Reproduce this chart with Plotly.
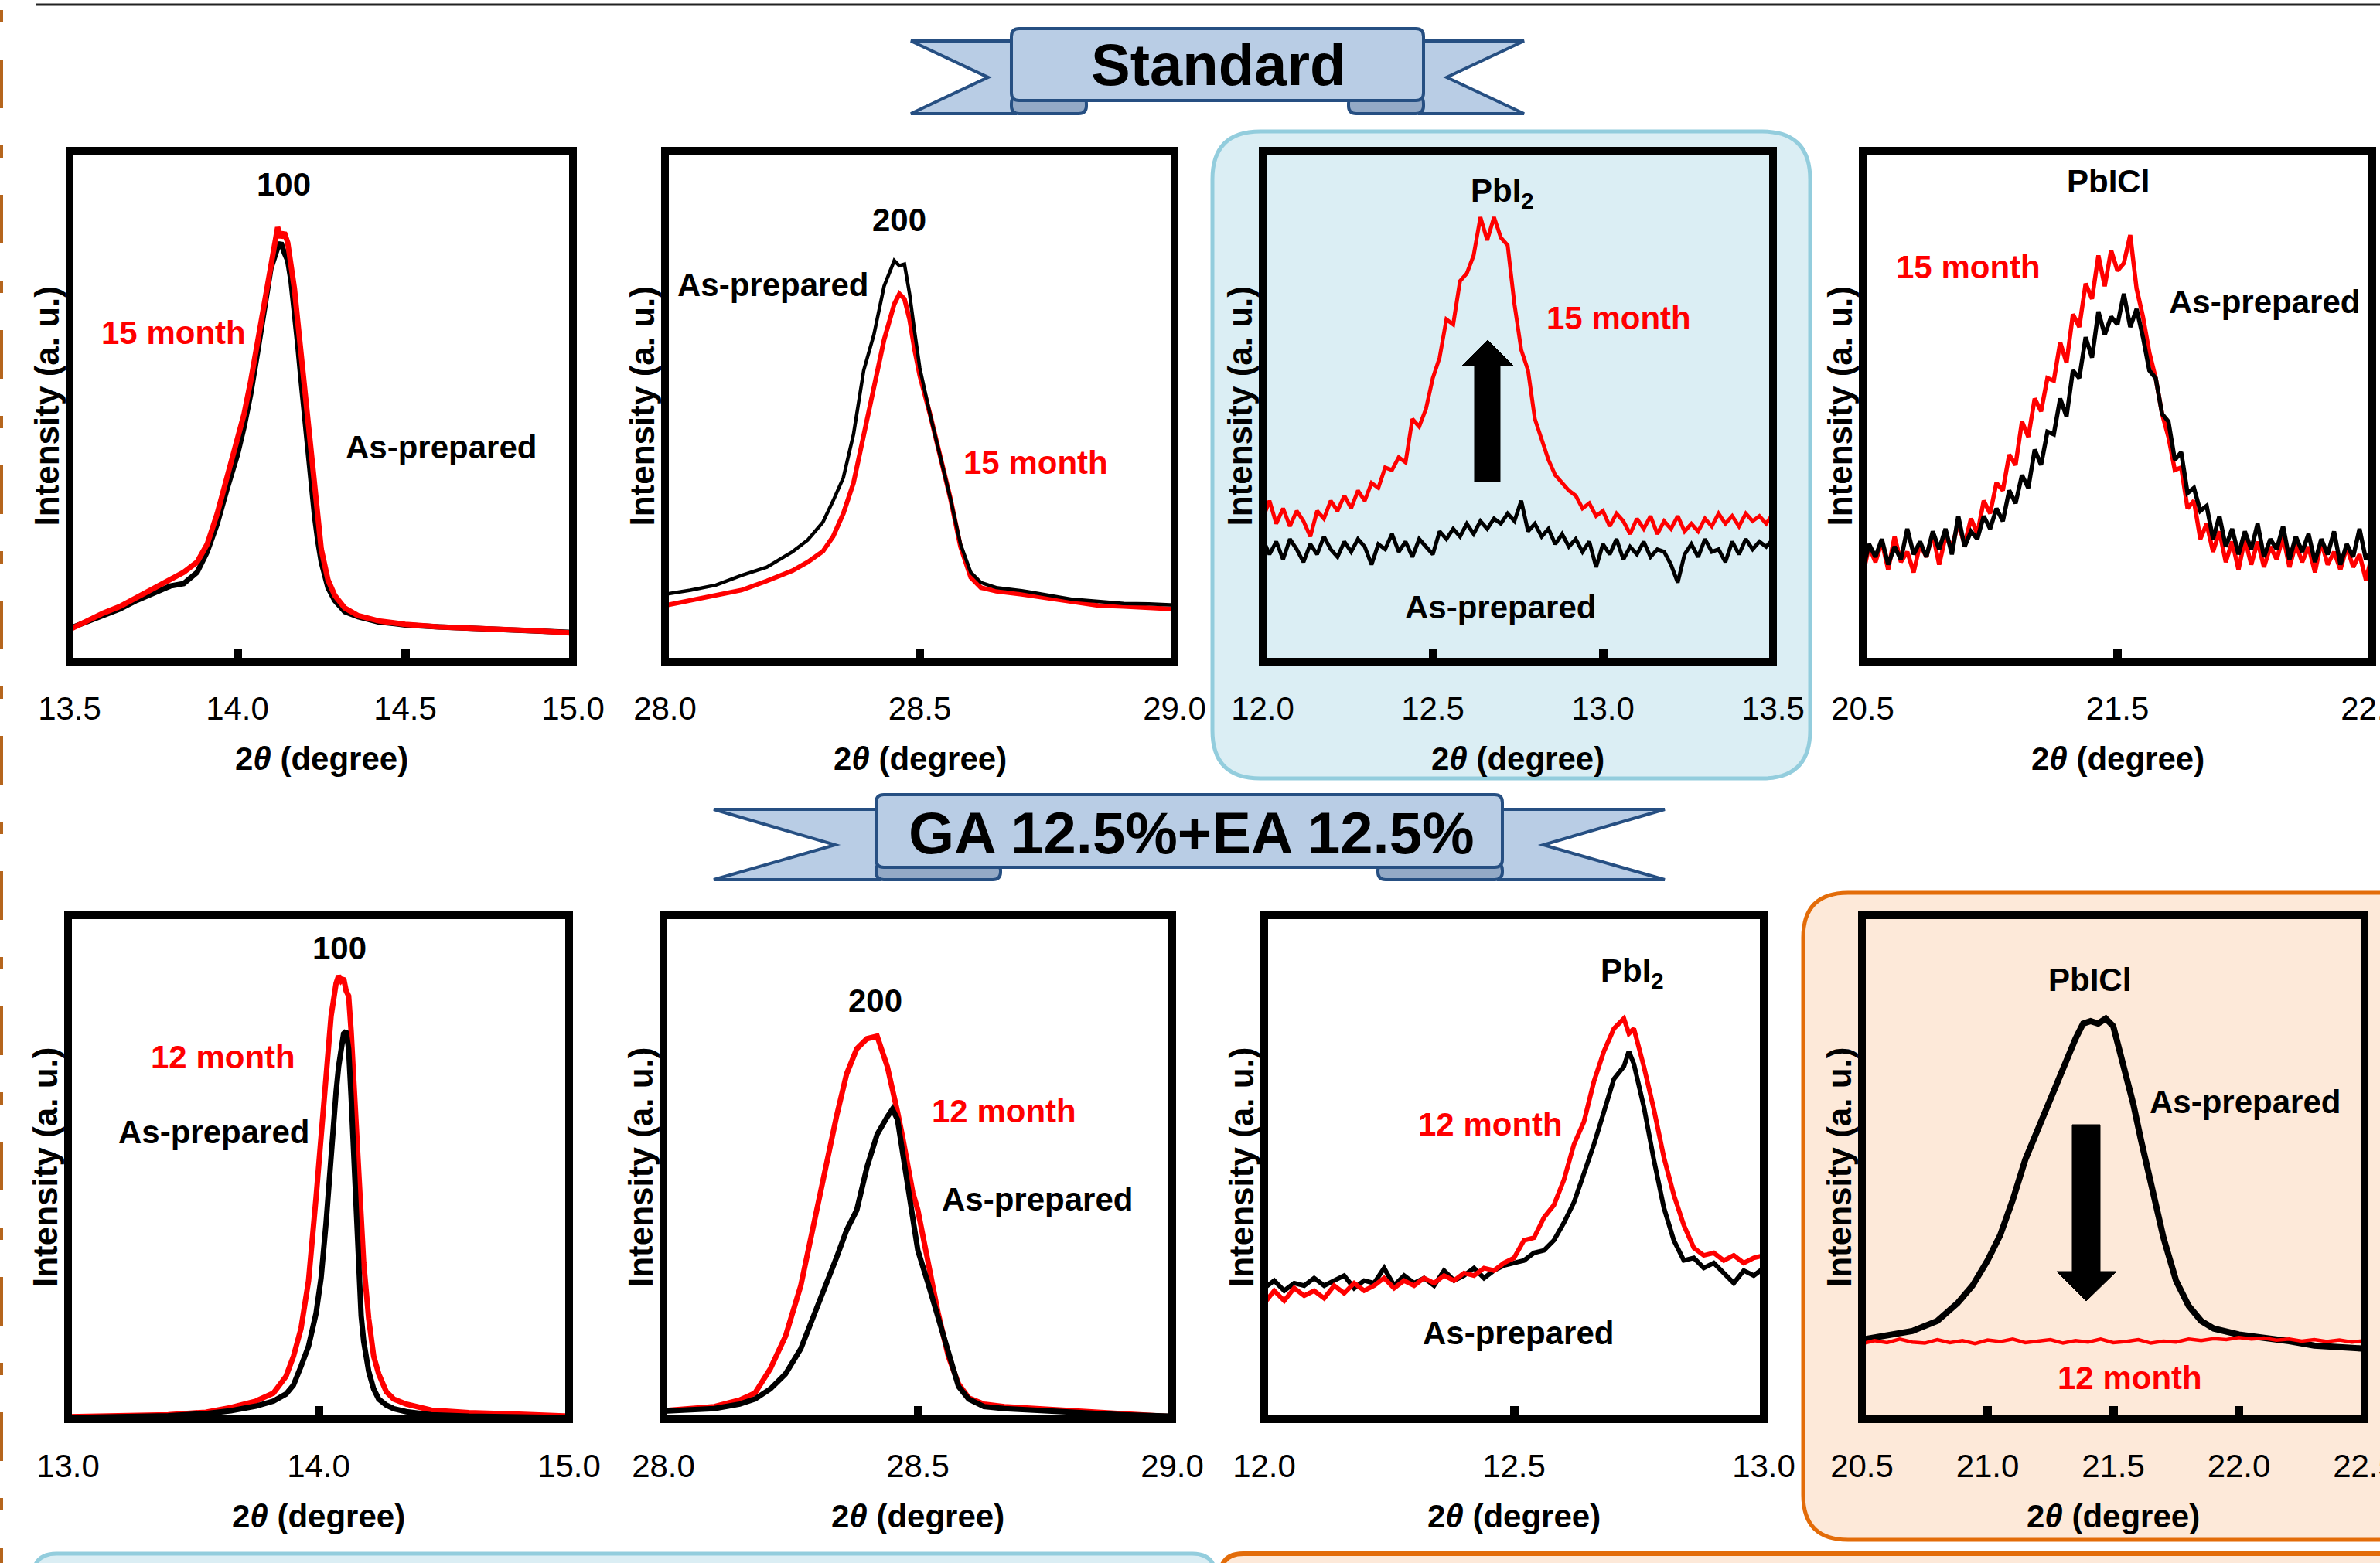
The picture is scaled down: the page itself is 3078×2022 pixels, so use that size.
import plotly.graph_objects as go

W, H = 3078, 2022
FONT = "Liberation Sans, Arial, Helvetica, sans-serif"


def PX(x):
    return x / W


def PY(y):
    return 1 - y / H


# ------------------------------------------------------------------ data
# Panel 1 : Standard, (100) peak
p1_x = [13.50, 13.55, 13.60, 13.65, 13.70, 13.75, 13.80, 13.84, 13.88, 13.91, 13.94, 13.97, 14.00,
        14.02, 14.04, 14.06, 14.08, 14.10, 14.12, 14.13, 14.14, 14.15, 14.16, 14.17, 14.18, 14.19,
        14.20, 14.21, 14.22, 14.23, 14.24, 14.25, 14.27, 14.29, 14.32, 14.36, 14.42, 14.50, 14.60,
        14.70, 14.80, 14.90, 15.00]
p1_asprep = [6.5, 7.8, 9.0, 10.3, 12.0, 13.3, 14.8, 15.3, 17.5, 21.5, 27.0, 34.0, 40.5,
             46.0, 52.5, 60.5, 69.5, 77.0, 81.0, 82.0, 80.0, 78.5, 74.5, 69.0, 62.0, 55.0,
             48.0, 41.0, 35.0, 28.5, 23.5, 19.5, 14.5, 12.0, 9.8, 8.8, 7.8, 7.2, 6.8,
             6.5, 6.2, 6.0, 5.7]
p1_aged = [6.3, 7.9, 9.5, 10.8, 12.5, 14.2, 16.0, 17.5, 19.5, 23.0, 29.0, 36.5, 43.0,
           48.5, 55.0, 62.5, 71.5, 79.0, 85.0, 83.0, 84.0, 82.0, 77.5, 73.0, 66.5, 60.0,
           53.0, 46.0, 40.0, 33.0, 27.5, 22.0, 16.0, 13.0, 10.5, 9.0, 8.0, 7.3, 6.8,
           6.6, 6.4, 6.0, 5.6]
p1_ticks = [13.5, 14.0, 14.5, 15.0]
p1_ticktext = ["13.5", "14.0", "14.5", "15.0"]

# Panel 2 : Standard, (200) peak
p2_x = [28.00, 28.05, 28.10, 28.15, 28.20, 28.25, 28.28, 28.31, 28.33, 28.35, 28.37, 28.39, 28.41,
        28.43, 28.45, 28.46, 28.47, 28.48, 28.49, 28.50, 28.52, 28.54, 28.56, 28.58, 28.60, 28.62,
        28.65, 28.70, 28.75, 28.80, 28.85, 28.90, 28.95, 29.00]
p2_asprep = [13.2, 14.0, 15.0, 16.9, 18.5, 21.5, 23.8, 27.3, 31.5, 36.0, 44.5, 57.0, 64.0,
             73.5, 78.5, 77.5, 77.8, 72.0, 64.5, 57.5, 48.5, 40.5, 32.0, 23.0, 17.5, 15.5,
             14.5, 13.9, 13.0, 12.2, 11.8, 11.4, 11.3, 11.1]
p2_aged = [11.0, 12.0, 12.8, 14.0, 15.8, 17.8, 19.5, 21.6, 24.5, 29.0, 35.0, 44.0, 53.0,
           63.0, 70.0, 72.0, 71.0, 67.0, 61.0, 56.0, 48.5, 40.5, 32.0, 22.5, 16.5, 14.5,
           13.8, 13.2, 12.4, 11.6, 11.0, 10.8, 10.5, 10.3]
p2_ticks = [28.0, 28.5, 29.0]
p2_ticktext = ["28.0", "28.5", "29.0"]

# Panel 3 : Standard, PbI2 peak
p3_x = [12.00, 12.02, 12.04, 12.06, 12.08, 12.10, 12.12, 12.14, 12.16, 12.18,
        12.20, 12.22, 12.24, 12.26, 12.28, 12.30, 12.32, 12.34, 12.36, 12.38,
        12.40, 12.42, 12.44, 12.46, 12.48, 12.50, 12.52, 12.54, 12.56, 12.58,
        12.60, 12.62, 12.64, 12.66, 12.68, 12.70, 12.72, 12.74, 12.76, 12.78,
        12.80, 12.82, 12.84, 12.86, 12.88, 12.90, 12.92, 12.94, 12.96, 12.98,
        13.00, 13.02, 13.04, 13.06, 13.08, 13.10, 13.12, 13.14, 13.16, 13.18,
        13.20, 13.22, 13.24, 13.26, 13.28, 13.30, 13.32, 13.34, 13.36, 13.38,
        13.40, 13.42, 13.44, 13.46, 13.48, 13.50]
p3_asprep = [24, 21, 23.5, 20, 24, 22, 19.5, 23, 21, 24.5,
             22, 20.5, 23.5, 21.5, 24, 22.5, 19, 23, 22, 25,
             21.5, 23.5, 20.5, 24, 22.5, 21, 25.5, 24, 26, 24.5,
             27, 25, 27.5, 26, 28, 27, 29, 27.5, 31.5, 25.5,
             27, 24.5, 26, 23, 25, 22.5, 24, 21.5, 23.5, 18.5,
             23, 21, 24, 20, 22.5, 21, 23.5, 20.5, 22, 21.5,
             19, 15.5, 21, 23, 20.5, 24, 21.5, 22, 19.5, 23.5,
             21, 24, 22, 23.5, 22.5, 24]
p3_aged = [28, 31.5, 27, 30, 26.5, 29.5, 27.5, 24.5, 29.5, 28,
           31.5, 29.5, 32.5, 30, 33.5, 31.5, 35, 34, 38, 37.5,
           40, 39, 47.5, 46, 49.5, 55.5, 59.5, 67, 66, 74.5,
           76, 79.5, 87, 82.5, 87, 83, 81.5, 70, 61, 57,
           47.5, 43.5, 39.5, 36.5, 35, 33.5, 32.5, 30, 31, 28.5,
           29.5, 26.5, 29, 27.5, 25, 28, 26, 28.5, 25, 27.5,
           26, 28.5, 25.5, 27, 25.5, 28, 26.5, 29, 27, 28.5,
           26.5, 29, 27.5, 28.5, 27, 29]
p3_ticks = [12.0, 12.5, 13.0, 13.5]
p3_ticktext = ["12.0", "12.5", "13.0", "13.5"]

# Panel 4 : Standard, PbICl peak
p4_x = [20.500, 20.525, 20.550, 20.575, 20.600, 20.625, 20.650, 20.675, 20.700, 20.725,
        20.750, 20.775, 20.800, 20.825, 20.850, 20.875, 20.900, 20.925, 20.950, 20.975,
        21.000, 21.025, 21.050, 21.075, 21.100, 21.125, 21.150, 21.175, 21.200, 21.225,
        21.250, 21.275, 21.300, 21.325, 21.350, 21.375, 21.400, 21.425, 21.450, 21.475,
        21.500, 21.525, 21.550, 21.575, 21.600, 21.625, 21.650, 21.675, 21.700, 21.725,
        21.750, 21.775, 21.800, 21.825, 21.850, 21.875, 21.900, 21.925, 21.950, 21.975,
        22.000, 22.025, 22.050, 22.075, 22.100, 22.125, 22.150, 22.175, 22.200, 22.225,
        22.250, 22.275, 22.300, 22.325, 22.350, 22.375, 22.400, 22.425, 22.450, 22.475,
        22.500]
p4_asprep = [18.0, 23.0, 20.5, 24.0, 19.0, 22.5, 20.0, 26.0, 21.0, 23.5,
             20.5, 25.5, 22.0, 26.0, 21.0, 28.5, 22.5, 25.5, 24.0, 28.5,
             26.0, 30.0, 27.5, 33.5, 31.0, 36.5, 34.0, 41.5, 38.5, 45.0,
             44.5, 51.5, 48.0, 57.0, 55.5, 63.5, 59.5, 68.5, 64.0, 67.5,
             66.0, 72.0, 65.5, 69.0, 63.5, 57.0, 55.5, 48.5, 47.0, 39.5,
             41.0, 33.0, 34.0, 29.5, 30.5, 24.0, 28.5, 22.5, 26.0, 21.0,
             25.5, 22.0, 27.0, 20.5, 24.0, 22.0, 26.5, 20.0, 24.5, 21.5,
             25.0, 19.5, 24.0, 21.0, 25.5, 19.0, 23.0, 20.5, 26.0, 20.0,
             22.0]
p4_aged = [17.0, 22.5, 19.5, 23.5, 18.0, 24.5, 19.5, 21.5, 17.5, 23.0,
           20.5, 25.0, 19.0, 24.5, 22.5, 27.0, 23.0, 28.0, 25.0, 31.5,
           29.0, 35.0, 33.5, 40.5, 38.5, 47.0, 44.0, 51.5, 49.0, 55.5,
           55.0, 62.5, 58.5, 68.0, 65.5, 74.0, 71.0, 79.5, 73.5, 80.5,
           76.5, 78.0, 83.5, 73.0, 67.5, 60.5, 55.5, 48.5, 44.0, 37.5,
           38.0, 30.0, 31.5, 24.0, 27.0, 21.5, 25.5, 19.5, 23.5, 18.0,
           24.0, 19.0, 23.5, 18.5, 22.5, 20.0, 24.5, 18.5, 23.0, 19.5,
           22.5, 17.5, 23.5, 19.0, 21.5, 18.0, 22.5, 18.5, 21.0, 16.0,
           21.0]
p4_ticks = [20.5, 21.5, 22.5]
p4_ticktext = ["20.5", "21.5", "22.5"]

# Panel 5 : GA+EA, (100) peak
p5_x = [13.00, 13.20, 13.40, 13.55, 13.65, 13.75, 13.82, 13.87, 13.90, 13.93, 13.96, 13.99, 14.01,
        14.03, 14.05, 14.07, 14.08, 14.09, 14.10, 14.11, 14.12, 14.13, 14.14, 14.15, 14.16, 14.17,
        14.18, 14.20, 14.22, 14.24, 14.27, 14.30, 14.35, 14.45, 14.60, 14.80, 15.00]
p5_asprep = [0.3, 0.4, 0.7, 1.1, 1.7, 2.6, 3.6, 5.0, 6.8, 10.5, 14.5, 21.0, 28.0,
             39.0, 53.0, 65.0, 70.0, 73.5, 76.5, 77.0, 73.5, 64.0, 53.0, 41.0, 28.0, 20.5,
             15.5, 9.5, 6.0, 4.0, 2.8, 2.1, 1.5, 0.9, 0.6, 0.4, 0.3]
p5_aged = [0.5, 0.6, 0.9, 1.4, 2.3, 3.6, 5.2, 8.5, 12.5, 18.0, 27.5, 44.0, 57.0,
           70.0, 80.0, 86.5, 88.0, 87.0, 87.5, 85.0, 84.0, 77.0, 68.0, 57.0, 47.5, 39.5,
           31.0, 20.0, 12.5, 9.0, 5.5, 4.0, 3.0, 1.8, 1.3, 1.0, 0.6]
p5_ticks = [13.0, 14.0, 15.0]
p5_ticktext = ["13.0", "14.0", "15.0"]

# Panel 6 : GA+EA, (200) peak
p6_x = [28.00, 28.05, 28.10, 28.15, 28.18, 28.21, 28.24, 28.27, 28.30, 28.32, 28.34, 28.36, 28.38,
        28.40, 28.42, 28.44, 28.45, 28.46, 28.47, 28.48, 28.49, 28.50, 28.52, 28.54, 28.56, 28.58,
        28.60, 28.63, 28.67, 28.72, 28.80, 28.90, 29.00]
p6_asprep = [1.6, 1.8, 2.1, 3.0, 4.0, 6.0, 9.0, 14.0, 21.5, 26.5, 32.0, 37.5, 41.5,
             50.0, 56.5, 60.0, 61.5, 59.5, 53.0, 45.0, 38.5, 33.5, 27.0, 20.0, 13.5, 6.5,
             4.0, 2.5, 2.1, 1.8, 1.3, 0.9, 0.6]
p6_aged = [1.7, 2.0, 2.5, 3.8, 5.2, 10.0, 16.5, 26.5, 41.0, 49.5, 60.0, 68.5, 73.5,
           75.5, 76.0, 70.0, 66.0, 61.0, 56.0, 50.0, 45.0, 41.5, 31.5, 21.0, 12.5, 7.0,
           4.2, 3.0, 2.5, 2.2, 1.5, 1.0, 0.5]
p6_ticks = [28.0, 28.5, 29.0]
p6_ticktext = ["28.0", "28.5", "29.0"]

# Panel 7 : GA+EA, PbI2 peak
p7_x = [12.00, 12.02, 12.04, 12.06, 12.08, 12.10, 12.12, 12.14, 12.16, 12.18,
        12.20, 12.22, 12.24, 12.26, 12.28, 12.30, 12.32, 12.34, 12.36, 12.38,
        12.40, 12.42, 12.44, 12.46, 12.48, 12.50, 12.52, 12.54, 12.56, 12.58,
        12.60, 12.62, 12.64, 12.66, 12.68, 12.70, 12.72, 12.73, 12.74, 12.76,
        12.78, 12.80, 12.82, 12.84, 12.86, 12.88, 12.90, 12.92, 12.94, 12.96,
        12.98, 13.00]
p7_asprep = [26.0, 27.5, 25.5, 27.0, 26.5, 28.0, 26.5, 27.5, 28.5, 26.0,
             27.5, 27.0, 30.0, 26.5, 28.5, 27.0, 28.0, 26.5, 29.5, 27.5,
             28.5, 30.0, 28.0, 29.5, 30.5, 31.0, 31.5, 33.0, 33.5, 35.5,
             39.0, 43.0, 48.5, 54.5, 61.0, 67.5, 70.0, 73.0, 70.5, 62.0,
             51.5, 42.0, 35.5, 31.5, 32.0, 30.0, 31.0, 29.0, 27.0, 29.5,
             28.5, 30.0]
p7_aged = [23.0, 25.5, 23.5, 26.0, 24.5, 25.5, 24.0, 26.5, 25.0, 27.0,
           25.5, 26.5, 28.0, 26.0, 27.5, 26.5, 28.0, 27.0, 28.5, 27.5,
           29.0, 28.5, 30.0, 29.5, 31.0, 32.0, 35.5, 36.0, 40.0, 42.5,
           47.5, 54.5, 59.0, 67.0, 73.0, 77.5, 79.5, 76.5, 77.5, 70.0,
           61.5, 52.0, 44.5, 38.5, 34.0, 32.5, 33.0, 31.5, 32.5, 31.0,
           32.0, 32.5]
p7_ticks = [12.0, 12.5, 13.0]
p7_ticktext = ["12.0", "12.5", "13.0"]

# Panel 8 : GA+EA, PbICl peak
p8_x = [20.50, 20.60, 20.70, 20.80, 20.88, 20.94, 21.00, 21.05, 21.10, 21.15, 21.20, 21.25,
        21.30, 21.35, 21.38, 21.41, 21.44, 21.47, 21.50, 21.52, 21.55, 21.58, 21.61, 21.65,
        21.70, 21.75, 21.80, 21.85, 21.90, 22.00, 22.10, 22.20, 22.30, 22.40, 22.50]
p8_asprep = [15.8, 16.5, 17.5, 19.5, 23.0, 26.5, 31.5, 36.5, 43.5, 51.5, 57.5, 64.0,
             70.0, 75.5, 78.5, 79.0, 78.5, 79.5, 78.0, 74.0, 69.0, 62.5, 55.5, 47.0,
             36.0, 27.5, 22.5, 19.5, 18.0, 16.8, 16.2, 15.5, 14.6, 14.3, 14.0]
p8_aged_x = [20.50, 20.55, 20.60, 20.65, 20.70, 20.75, 20.80, 20.85, 20.90, 20.95,
             21.00, 21.05, 21.10, 21.15, 21.20, 21.25, 21.30, 21.35, 21.40, 21.45,
             21.50, 21.55, 21.60, 21.65, 21.70, 21.75, 21.80, 21.85, 21.90, 21.95,
             22.00, 22.05, 22.10, 22.15, 22.20, 22.25, 22.30, 22.35, 22.40, 22.45,
             22.50]
p8_aged = [15.0, 15.6, 15.2, 15.9, 15.3, 15.1, 15.8, 15.2, 15.6, 15.0,
           15.7, 15.4, 15.9, 15.2, 15.5, 15.8, 15.1, 15.6, 15.3, 15.9,
           15.2, 15.4, 15.8, 15.1, 15.5, 15.3, 15.9, 15.6, 16.0, 15.8,
           16.2, 15.9, 16.1, 15.7, 15.9, 15.5, 15.8, 15.4, 15.7, 15.3,
           15.6]
p8_ticks = [20.5, 21.0, 21.5, 22.0, 22.5]
p8_ticktext = ["20.5", "21.0", "21.5", "22.0", "22.5"]

# ------------------------------------------------------------------ layout config
panels = [
    dict(x=p1_x, a=p1_asprep, xr=p1_x, r=p1_aged, box=(90, 195, 741, 856), rng=[13.5, 15.0],
         tv=p1_ticks, tt=p1_ticktext, wa=7, wr=7, red_top=True),
    dict(x=p2_x, a=p2_asprep, xr=p2_x, r=p2_aged, box=(860, 195, 1519, 856), rng=[28.0, 29.0],
         tv=p2_ticks, tt=p2_ticktext, wa=4.5, wr=6, red_top=False),
    dict(x=p3_x, a=p3_asprep, xr=p3_x, r=p3_aged, box=(1633, 195, 2293, 856), rng=[12.0, 13.5],
         tv=p3_ticks, tt=p3_ticktext, wa=5, wr=5, red_top=False),
    dict(x=p4_x, a=p4_asprep, xr=p4_x, r=p4_aged, box=(2409, 195, 3068, 856), rng=[20.5, 22.5],
         tv=p4_ticks, tt=p4_ticktext, wa=5.5, wr=5.5, red_top=False),
    dict(x=p5_x, a=p5_asprep, xr=p5_x, r=p5_aged, box=(88, 1184, 736, 1836), rng=[13.0, 15.0],
         tv=p5_ticks, tt=p5_ticktext, wa=7, wr=7, red_top=False),
    dict(x=p6_x, a=p6_asprep, xr=p6_x, r=p6_aged, box=(858, 1184, 1516, 1836), rng=[28.0, 29.0],
         tv=p6_ticks, tt=p6_ticktext, wa=7, wr=7, red_top=False),
    dict(x=p7_x, a=p7_asprep, xr=p7_x, r=p7_aged, box=(1635, 1184, 2281, 1836), rng=[12.0, 13.0],
         tv=p7_ticks, tt=p7_ticktext, wa=6, wr=6, red_top=True),
    dict(x=p8_x, a=p8_asprep, xr=p8_aged_x, r=p8_aged, box=(2408, 1184, 3058, 1836), rng=[20.5, 22.5],
         tv=p8_ticks, tt=p8_ticktext, wa=8, wr=4.5, red_top=True),
]

BLACK = "#000000"
RED = "#FF0000"

labels = [
    ("<b>100</b>", 367, 238, BLACK), ("<b>15 month</b>", 224, 430, RED), ("<b>As-prepared</b>", 570, 579, BLACK),
    ("<b>200</b>", 1163, 284, BLACK), ("<b>As-prepared</b>", 999, 368, BLACK), ("<b>15 month</b>", 1339, 598, RED),
    ("<b>PbI<sub>2</sub></b>", 1943, 250, BLACK), ("<b>15 month</b>", 2093, 412, RED), ("<b>As-prepared</b>", 1940, 785, BLACK),
    ("<b>PbICl</b>", 2726, 234, BLACK), ("<b>15 month</b>", 2545, 346, RED), ("<b>As-prepared</b>", 2928, 390, BLACK),
    ("<b>100</b>", 439, 1226, BLACK), ("<b>12 month</b>", 288, 1367, RED), ("<b>As-prepared</b>", 276, 1464, BLACK),
    ("<b>200</b>", 1132, 1294, BLACK), ("<b>12 month</b>", 1298, 1437, RED), ("<b>As-prepared</b>", 1341, 1551, BLACK),
    ("<b>PbI<sub>2</sub></b>", 2111, 1258, BLACK), ("<b>12 month</b>", 1927, 1454, RED), ("<b>As-prepared</b>", 1963, 1724, BLACK),
    ("<b>PbICl</b>", 2702, 1267, BLACK), ("<b>As-prepared</b>", 2903, 1425, BLACK), ("<b>12 month</b>", 2754, 1782, RED),
]

fig = go.Figure()
layout = dict(
    template="none",
    width=W, height=H, autosize=False, margin=dict(l=0, r=0, t=0, b=0, pad=0, autoexpand=False),
    paper_bgcolor="white", plot_bgcolor="rgba(0,0,0,0)",
    showlegend=False, hovermode=False,
)
shapes = []
annotations = []


def pt(x, y):
    return f"{PX(x):.6f},{PY(y):.6f}"


def poly(pts):
    return "M " + " L ".join(pt(x, y) for x, y in pts) + " Z"


def rrect(x0, y0, x1, y1, r):
    return (f"M {pt(x0 + r, y0)} L {pt(x1 - r, y0)} Q {pt(x1, y0)} {pt(x1, y0 + r)} "
            f"L {pt(x1, y1 - r)} Q {pt(x1, y1)} {pt(x1 - r, y1)} L {pt(x0 + r, y1)} "
            f"Q {pt(x0, y1)} {pt(x0, y1 - r)} L {pt(x0, y0 + r)} Q {pt(x0, y0)} {pt(x0 + r, y0)} Z")


def add_path(path, fill, line, width, layer="below"):
    shapes.append(dict(type="path", xref="paper", yref="paper", path=path,
                       fillcolor=fill, line=dict(color=line, width=width), layer=layer))


# background boxes
add_path(rrect(1568, 170, 2341, 1007, 62), "#DBEEF4", "#93CDDD", 5)
add_path(rrect(2332, 1155, 3160, 1992, 58), "#FDE9D9", "#E36C09", 5)
add_path(rrect(43, 2010, 1572, 2200, 30), "#DBEEF4", "#93CDDD", 5)
add_path(rrect(1578, 2010, 3200, 2200, 30), "#FDE9D9", "#E36C09", 6)

# top rule and left dashed rule
shapes.append(dict(type="line", xref="paper", yref="paper", x0=PX(46), x1=PX(3078), y0=PY(6), y1=PY(6),
                   line=dict(color="#222222", width=3), layer="below"))
shapes.append(dict(type="line", xref="paper", yref="paper", x0=PX(2), x1=PX(2), y0=PY(-98), y1=PY(2100),
                   line=dict(color="#B5651D", width=4, dash="63px,48px,16px,48px"), layer="below"))


# banners
def banner(cx, x_main0, y_main0, y_main1, x_tail0, y_tail0, y_tail1, notch_x, notch_y, fold_x1, fold_y0):
    def mir(x):
        return 2 * cx - x
    x_main1 = mir(x_main0)
    fill = "#B9CDE5"
    edge = "#264F82"
    add_path(poly([(x_tail0, y_tail0), (x_main0 + 5, y_tail0), (x_main0 + 5, y_tail1), (x_tail0, y_tail1),
                   (notch_x, notch_y)]), fill, edge, 4, "above")
    add_path(poly([(mir(x_tail0), y_tail0), (x_main1 - 5, y_tail0), (x_main1 - 5, y_tail1), (mir(x_tail0), y_tail1),
                   (mir(notch_x), notch_y)]), fill, edge, 4, "above")
    add_path(rrect(x_main0, fold_y0, fold_x1, y_tail1, 10), "#93A9C6", edge, 4, "above")
    add_path(rrect(mir(fold_x1), fold_y0, x_main1, y_tail1, 10), "#93A9C6", edge, 4, "above")
    add_path(rrect(x_main0, y_main0, x_main1, y_main1, 10), fill, edge, 4, "above")


banner(1574.5, 1308, 37, 130, 1178, 53, 147, 1278, 100, 1405, 124)
banner(1538, 1133, 1028, 1122, 923, 1047, 1138, 1080, 1093, 1294, 1116)

annotations.append(dict(text="<b>Standard</b>", x=PX(1575), y=PY(84), xref="paper", yref="paper",
                        showarrow=False, xanchor="center", yanchor="middle",
                        font=dict(family=FONT, size=76, color="black")))
annotations.append(dict(text="<b>GA 12.5%+EA 12.5%</b>", x=PX(1541), y=PY(1077), xref="paper", yref="paper",
                        showarrow=False, xanchor="center", yanchor="middle",
                        font=dict(family=FONT, size=76, color="black")))

# arrows
add_path(poly([(1907, 623), (1907, 473), (1891, 473), (1924, 440), (1957, 473), (1940, 473), (1940, 623)]),
         "black", "black", 1, "above")
add_path(poly([(2680, 1455), (2716, 1455), (2716, 1645), (2737, 1645), (2698, 1683), (2660, 1645), (2680, 1645)]),
         "black", "black", 1, "above")

# subplots
for i, p in enumerate(panels, start=1):
    sx = "" if i == 1 else str(i)
    x0, y0, x1, y1 = p["box"]
    xa = "x" + sx
    ya = "y" + sx
    layout["xaxis" + sx] = dict(
        domain=[PX(x0), PX(x1)], range=p["rng"], anchor=ya, automargin=False,
        tickvals=p["tv"], ticktext=p["tt"], ticks="inside", ticklen=17, tickwidth=11, tickcolor="black",
        showgrid=False, zeroline=False, showline=False, fixedrange=True, ticklabeloverflow="allow",
        tickfont=dict(family=FONT, size=42, color="black"), ticklabelstandoff=32,
    )
    layout["yaxis" + sx] = dict(
        domain=[PY(y1), PY(y0)], range=[0, 100], anchor=xa, automargin=False,
        showticklabels=False, ticks="", showgrid=False, zeroline=False, showline=False, fixedrange=True,
    )
    red = go.Scatter(x=p["xr"], y=p["r"], xaxis=xa, yaxis=ya, mode="lines",
                     line=dict(color=RED, width=p["wr"]), hoverinfo="skip")
    blk = go.Scatter(x=p["x"], y=p["a"], xaxis=xa, yaxis=ya, mode="lines",
                     line=dict(color=BLACK, width=p["wa"]), hoverinfo="skip")
    if p["red_top"]:
        fig.add_trace(blk)
        fig.add_trace(red)
    else:
        fig.add_trace(red)
        fig.add_trace(blk)
    shapes.append(dict(type="rect", xref=xa + " domain", yref=ya + " domain", x0=0, x1=1, y0=0, y1=1,
                       line=dict(color="black", width=10), fillcolor="rgba(0,0,0,0)", layer="above"))
    row_top = y0 < 1000
    title_y = 981 if row_top else 1961
    annotations.append(dict(text="<b>2<i>θ</i> (degree)</b>", x=PX((x0 + x1) / 2), y=PY(title_y),
                            xref="paper", yref="paper", showarrow=False, xanchor="center", yanchor="middle",
                            font=dict(family=FONT, size=42, color="black")))
    annotations.append(dict(text="<b>Intensity (a. u.)</b>", x=PX(x0 - 30), y=PY((y0 + y1) / 2),
                            xref="paper", yref="paper", showarrow=False, xanchor="center", yanchor="middle",
                            textangle=-90, font=dict(family=FONT, size=44, color="black")))

for text, x, y, c in labels:
    annotations.append(dict(text=text, x=PX(x), y=PY(y), xref="paper", yref="paper", showarrow=False,
                            xanchor="center", yanchor="middle", font=dict(family=FONT, size=42, color=c)))

layout["shapes"] = shapes
layout["annotations"] = annotations
fig.update_layout(**layout)
fig.write_html("out.html", config={"responsive": False})
